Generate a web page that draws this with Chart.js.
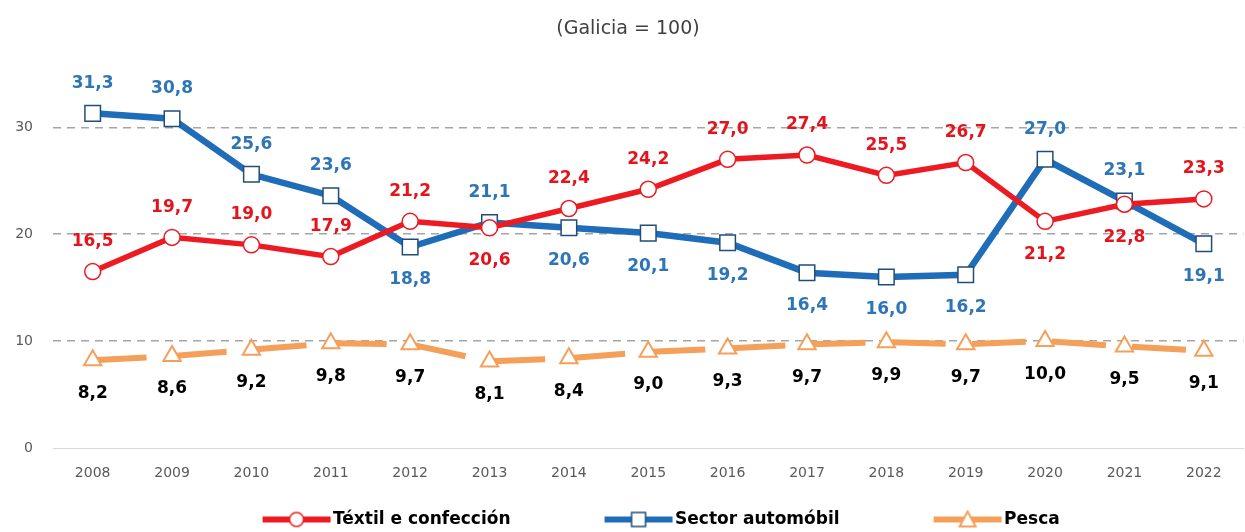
<!DOCTYPE html>
<html>
<head>
<meta charset="utf-8">
<script src="https://cdn.jsdelivr.net/npm/chart.js@4/dist/chart.umd.min.js"></script>
<style>
  html, body { margin: 0; padding: 0; background: #ffffff; overflow: hidden; }
  #wrap { width: 1256px; height: 532px; }
</style>
</head>
<body>
<div id="wrap"><canvas id="c" width="1256" height="532"></canvas></div>
<script>
// ---- Data ----
const years = ['2008','2009','2010','2011','2012','2013','2014','2015','2016','2017','2018','2019','2020','2021','2022'];
const textil = [16.5, 19.7, 19.0, 17.9, 21.2, 20.6, 22.4, 24.2, 27.0, 27.4, 25.5, 26.7, 21.2, 22.8, 23.3];
const automobil = [31.3, 30.8, 25.6, 23.6, 18.8, 21.1, 20.6, 20.1, 19.2, 16.4, 16.0, 16.2, 27.0, 23.1, 19.1];
const pesca = [8.2, 8.6, 9.2, 9.8, 9.7, 8.1, 8.4, 9.0, 9.3, 9.7, 9.9, 9.7, 10.0, 9.5, 9.1];
const seriesNames = ['Téxtil e confección', 'Sector automóbil', 'Pesca'];
const yTicks = [0, 10, 20, 30];
const titleText = '(Galicia = 100)';

// label placement (a = above, b = below)
const textilPos = ['a','a','a','a','a','b','a','a','a','a','a','a','b','b','a'];
const autoPos   = ['a','a','a','a','b','a','b','b','b','b','b','b','a','a','b'];
const pescaPos  = ['b','b','b','b','b','b','b','b','b','b','b','b','b','b','b'];

const RED = '#EE1A22', RED_T = '#E3141B';
const BLUE = '#1F6DB8', BLUE_T = '#2E75B6', BLUE_M = '#1F4E79';
const ORANGE = '#F4A05A';

const LEG_BOX = 146;      // legend box width used by Chart.js
function legendImg(kind) {
  const extra = 7, W = LEG_BOX + 2 * extra, H = 20, lw = 68;
  const cv = document.createElement('canvas');
  cv.width = W; cv.height = H;
  const g = cv.getContext('2d');
  const x1 = W - 1, x0 = x1 - lw, cx = x0 + lw / 2, cy = H / 2;
  g.lineWidth = 6;
  g.strokeStyle = kind === 0 ? RED : kind === 1 ? BLUE : ORANGE;
  g.beginPath(); g.moveTo(x0, cy); g.lineTo(x1, cy); g.stroke();
  g.fillStyle = '#fff';
  g.lineWidth = 1.5;
  if (kind === 0) {
    g.strokeStyle = RED; g.beginPath(); g.arc(cx, cy, 7, 0, Math.PI * 2); g.fill(); g.stroke();
  } else if (kind === 1) {
    g.strokeStyle = BLUE_M; g.fillRect(cx - 7, cy - 7, 14, 14); g.strokeRect(cx - 7, cy - 7, 14, 14);
  } else {
    g.strokeStyle = ORANGE; g.lineWidth = 2;
    g.beginPath(); g.moveTo(cx, cy - 8); g.lineTo(cx + 8, cy + 7); g.lineTo(cx - 8, cy + 7); g.closePath(); g.fill(); g.stroke();
  }
  return cv;
}
const legendImgs = [legendImg(0), legendImg(1), legendImg(2)];
const legendTrail = ['', '', '\u00a0\u00a0\u00a0'];

const labelPlugin = {
  id: 'valueLabels',
  afterDatasetsDraw(chart) {
    const ctx = chart.ctx;
    const cfg = [
      { pos: textilPos, color: RED_T },
      { pos: autoPos, color: BLUE_T },
      { pos: pescaPos, color: '#000000' }
    ];
    ctx.save();
    ctx.font = 'bold 17px "DejaVu Sans"';
    ctx.textAlign = 'center';
    ctx.textBaseline = 'middle';
    chart.data.datasets.forEach((ds, di) => {
      const meta = chart.getDatasetMeta(di);
      meta.data.forEach((pt, i) => {
        const v = ds.data[i];
        const txt = v.toFixed(1).replace('.', ',');
        const dy = cfg[di].pos[i] === 'a' ? -30 : 33;
        ctx.fillStyle = cfg[di].color;
        ctx.fillText(txt, pt.x, pt.y + dy);
      });
    });
    ctx.restore();
  }
};

new Chart(document.getElementById('c'), {
  type: 'line',
  data: {
    labels: years,
    datasets: [
      {
        label: seriesNames[0], data: textil, borderColor: RED, borderWidth: 5.5,
        pointStyle: 'circle', pointRadius: 8, pointBorderWidth: 1.5,
        pointBackgroundColor: '#ffffff', pointBorderColor: RED, tension: 0
      },
      {
        label: seriesNames[1], data: automobil, borderColor: BLUE, borderWidth: 6.5,
        pointStyle: 'rect', pointRadius: 11, pointBorderWidth: 1.5,
        pointBackgroundColor: '#ffffff', pointBorderColor: BLUE_M, tension: 0
      },
      {
        label: seriesNames[2], data: pesca, borderColor: ORANGE, borderWidth: 6,
        borderDash: [54, 26.2], borderCapStyle: 'butt',
        pointStyle: 'triangle', pointRadius: 10, pointBorderWidth: 2,
        pointBackgroundColor: '#ffffff', pointBorderColor: ORANGE, tension: 0
      }
    ]
  },
  options: {
    responsive: false,
    devicePixelRatio: 1,
    animation: false,
    layout: { padding: { left: 0, right: 0, top: 0, bottom: -6 } },
    plugins: {
      title: {
        display: true, text: titleText, color: '#404040',
        font: { family: '"DejaVu Sans"', size: 19, weight: 'normal' },
        padding: { top: 18, bottom: 33 }
      },
      legend: {
        position: 'bottom',
        labels: {
          usePointStyle: true,
          pointStyleWidth: LEG_BOX,
          color: '#000000',
          padding: 10,
          font: { family: '"DejaVu Sans"', size: 17, weight: 'bold' },
          generateLabels(chart) {
            return chart.data.datasets.map((ds, i) => ({
              text: ds.label + legendTrail[i], pointStyle: legendImgs[i], datasetIndex: i,
              fillStyle: '#fff', strokeStyle: '#fff', lineWidth: 0, fontColor: '#000'
            }));
          }
        }
      },
      tooltip: { enabled: false }
    },
    scales: {
      x: {
        offset: true,
        grid: { display: false, drawTicks: false },
        border: { display: true, color: '#D9D9D9', width: 1 },
        ticks: { color: '#595959', font: { family: '"DejaVu Sans"', size: 14 }, padding: 17, maxRotation: 0 },
        afterFit(s) { s.height = 53; }
      },
      y: {
        min: 0, max: 35,
        afterBuildTicks(s) { s.ticks = yTicks.map(v => ({ value: v })); },
        grid: {
          drawTicks: false, lineWidth: 1.5,
          color: c => (c.tick && c.tick.value === 0) ? 'rgba(0,0,0,0)' : '#A6A6A6'
        },
        border: { display: false, dash: [8, 6] },
        ticks: { color: '#595959', font: { family: '"DejaVu Sans"', size: 14 }, padding: 20 },
        afterFit(s) { s.width = 53; }
      }
    }
  },
  plugins: [labelPlugin]
});
</script>
</body>
</html>
